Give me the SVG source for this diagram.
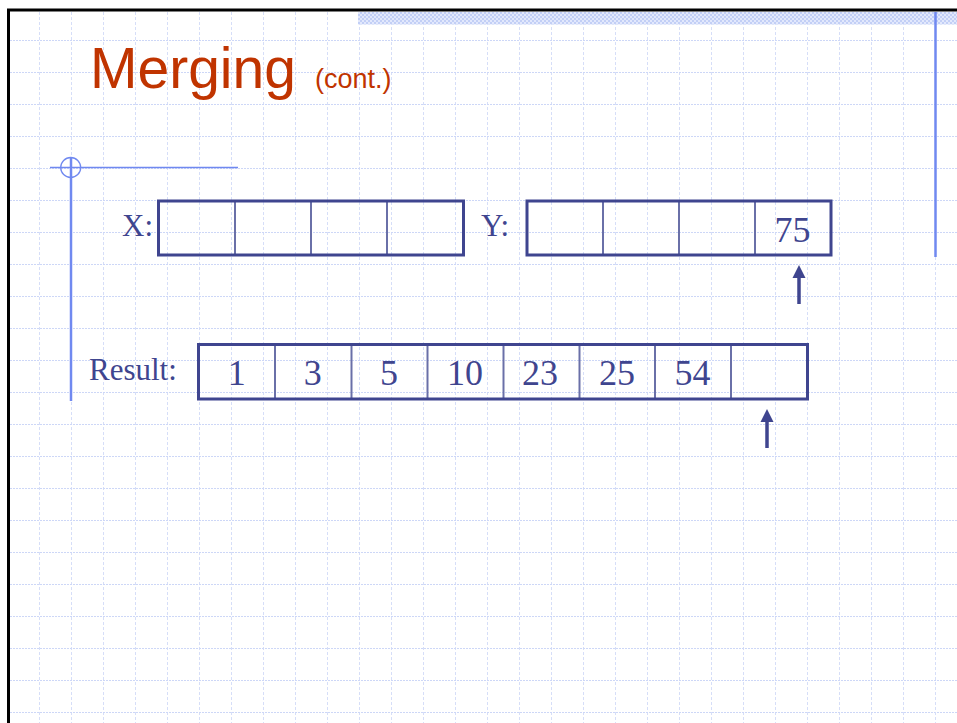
<svg xmlns="http://www.w3.org/2000/svg" width="957" height="723" viewBox="0 0 957 723">
<style>
.grid-h{stroke:#cdd7f7;stroke-width:1;stroke-dasharray:2 1;fill:none}
.grid-v{stroke:#d6def8;stroke-width:1;stroke-dasharray:3 2;fill:none}
.deco{stroke:#7089f0;fill:none}
.box{fill:none;stroke:#3f458f;stroke-width:3}
.div{stroke:#6a70a8;stroke-width:2}
.lbl{font-family:"Liberation Serif","Times New Roman",serif;font-size:31px;fill:#3f458f}
.num{font-family:"Liberation Serif","Times New Roman",serif;font-size:36px;fill:#3f458f;text-anchor:middle}
.arrow{stroke:#3f458f;stroke-width:3.5;fill:none}
</style>
<defs>
<pattern id="hatch" x="0" y="0" width="4" height="4" patternUnits="userSpaceOnUse">
<rect width="4" height="4" fill="#e2e8fc"/>
<rect width="2" height="2" fill="#c2cff6"/>
<rect x="2" y="2" width="2" height="2" fill="#c2cff6"/>
</pattern>
</defs>
<rect width="957" height="723" fill="#ffffff"/>
<g id="grid">
<path class="grid-v" d="M39.5 12V723M71.5 12V723M103.5 12V723M135.5 12V723M167.5 12V723M199.5 12V723M231.5 12V723M263.5 12V723M295.5 12V723M327.5 12V723M359.5 12V723M391.5 12V723M423.5 12V723M455.5 12V723M487.5 12V723M519.5 12V723M551.5 12V723M583.5 12V723M615.5 12V723M647.5 12V723M679.5 12V723M711.5 12V723M743.5 12V723M775.5 12V723M807.5 12V723M839.5 12V723M871.5 12V723M903.5 12V723"/>
<path class="grid-h" d="M10 40.5H957M10 72.5H957M10 104.5H957M10 136.5H957M10 168.5H957M10 200.5H957M10 232.5H957M10 264.5H957M10 296.5H957M10 328.5H957M10 360.5H957M10 392.5H957M10 424.5H957M10 456.5H957M10 488.5H957M10 520.5H957M10 552.5H957M10 584.5H957M10 616.5H957M10 648.5H957M10 680.5H957M10 712.5H957"/>
<path class="grid-v" d="M935.5 257V723"/>
</g>
<g id="frame">
<rect x="358" y="12" width="599" height="12.5" fill="url(#hatch)"/>
<path d="M8.5 723V10H957" fill="none" stroke="#000000" stroke-width="3"/>
<path class="deco" stroke-width="2.5" d="M935.5 12V257"/>
<path class="deco" stroke-width="2.5" d="M71 157V401"/>
<path class="deco" stroke-width="1.3" d="M50 167.5H238"/>
<circle class="deco" stroke-width="1.3" cx="70.7" cy="167.5" r="10"/>
</g>
<g id="title">
<text x="90" y="88" font-family="'Liberation Sans',Arial,sans-serif" font-size="57" fill="#c03400">Merging</text>
<text x="315" y="88" font-family="'Liberation Sans',Arial,sans-serif" font-size="27" fill="#c03400">(cont.)</text>
</g>
<g id="node-x">
<text class="lbl" x="122" y="236">X:</text>
<line class="div" x1="235" y1="201" x2="235" y2="255"/>
<line class="div" x1="311" y1="201" x2="311" y2="255"/>
<line class="div" x1="387" y1="201" x2="387" y2="255"/>
<rect class="box" x="158.5" y="201" width="305" height="54"/>
</g>
<g id="node-y">
<text class="lbl" x="481" y="236">Y:</text>
<line class="div" x1="603" y1="201" x2="603" y2="255"/>
<line class="div" x1="679" y1="201" x2="679" y2="255"/>
<line class="div" x1="755" y1="201" x2="755" y2="255"/>
<rect class="box" x="527" y="201" width="304" height="54"/>
<text class="num" x="792.5" y="242">75</text>
</g>
<g id="node-result">
<text class="lbl" x="89" y="380">Result:</text>
<line class="div" x1="275" y1="344.5" x2="275" y2="399"/>
<line class="div" x1="351.5" y1="344.5" x2="351.5" y2="399"/>
<line class="div" x1="427.5" y1="344.5" x2="427.5" y2="399"/>
<line class="div" x1="503.5" y1="344.5" x2="503.5" y2="399"/>
<line class="div" x1="579.5" y1="344.5" x2="579.5" y2="399"/>
<line class="div" x1="655" y1="344.5" x2="655" y2="399"/>
<line class="div" x1="731" y1="344.5" x2="731" y2="399"/>
<rect class="box" x="198.5" y="344.5" width="609" height="54.5"/>
<text class="num" x="236.7" y="385">1</text>
<text class="num" x="312.8" y="385">3</text>
<text class="num" x="389" y="385">5</text>
<text class="num" x="465" y="385">10</text>
<text class="num" x="540" y="385">23</text>
<text class="num" x="617" y="385">25</text>
<text class="num" x="692.5" y="385">54</text>
</g>
<g id="connectors">
<line class="arrow" x1="799" y1="304" x2="799" y2="278"/>
<path d="M792.5 278L799 265L805.5 278z" fill="#3f458f"/>
<line class="arrow" x1="767" y1="448" x2="767" y2="422"/>
<path d="M760.5 422L767 409L773.5 422z" fill="#3f458f"/>
</g>
</svg>
